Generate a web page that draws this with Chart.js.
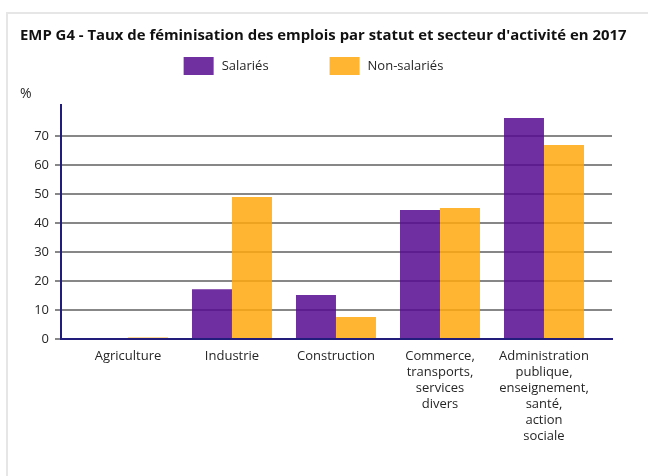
<!DOCTYPE html>
<html>
<head>
<meta charset="utf-8">
<script src="https://cdn.jsdelivr.net/npm/chart.js@4"></script>
<style>
  html, body { margin: 0; padding: 0; background: #ffffff; }
  #wrap { position: relative; width: 648px; height: 476px; overflow: hidden; }
  #frame { position: absolute; left: 6px; top: 12px; right: -10px; bottom: -10px;
           border-top: 2px solid #e6e6e6; border-left: 2px solid #e6e6e6; }
  canvas { position: absolute; left: 0; top: 0; }
</style>
</head>
<body>
<div id="wrap">
  <div id="frame"></div>
  <canvas id="c" width="648" height="476"></canvas>
</div>
<script>
// ---- data ----
const categories = [
  'Agriculture',
  'Industrie',
  'Construction',
  'Commerce, transports, services divers',
  'Administration publique, enseignement, santé, action sociale'
];
const categoryLines = [
  ['Agriculture'],
  ['Industrie'],
  ['Construction'],
  ['Commerce,', 'transports,', 'services', 'divers'],
  ['Administration', 'publique,', 'enseignement,', 'santé,', 'action', 'sociale']
];
const seriesNames = ['Salariés', 'Non-salariés'];
const salaries = [null, 17.2, 15.2, 44.5, 76.2];
const nonSalaries = [0.5, 49.0, 7.6, 45.2, 66.9];
const yTicks = [0, 10, 20, 30, 40, 50, 60, 70];

// ---- styles ----
const purpleSolid = '#7030A0';
const yellowSolid = '#FFB432';
const purpleBar = 'rgba(87,11,143,0.85)';
const yellowBar = 'rgba(255,167,14,0.85)';
const navy = '#221c7a';
const textColor = '#262626';
const FONT = '"Open Sans", "Noto Sans", sans-serif';

const toPoints = arr => arr.map((v, i) => ({ x: i, y: v }));

const legendPlugin = {
  id: 'customLegend',
  afterDraw(chart) {
    const ctx = chart.ctx;
    ctx.save();
    ctx.font = '13px ' + FONT;
    const items = chart.data.datasets.map(d => ({ label: d.label, color: d.legendColor }));
    const boxW = 30, boxH = 18, textGap = 8, itemGap = 61;
    const widths = items.map(it => boxW + textGap + ctx.measureText(it.label).width);
    const total = widths.reduce((a, b) => a + b, 0) + itemGap * (items.length - 1);
    let x = 313.5 - total / 2;
    const y = 57;
    items.forEach((it, i) => {
      ctx.fillStyle = it.color;
      ctx.fillRect(x, y, boxW, boxH);
      ctx.fillStyle = textColor;
      ctx.textBaseline = 'middle';
      ctx.textAlign = 'left';
      ctx.fillText(it.label, x + boxW + textGap, y + boxH / 2 + 0.5);
      x += widths[i] + itemGap;
    });
    ctx.restore();
  }
};

new Chart(document.getElementById('c'), {
  type: 'bar',
  data: {
    datasets: [
      { label: seriesNames[0], data: toPoints(salaries), backgroundColor: purpleBar, legendColor: purpleSolid,
        barPercentage: 1, categoryPercentage: 0.769 },
      { label: seriesNames[1], data: toPoints(nonSalaries), backgroundColor: yellowBar, legendColor: yellowSolid,
        barPercentage: 1, categoryPercentage: 0.769 }
    ]
  },
  options: {
    responsive: false,
    animation: false,
    devicePixelRatio: 1,
    layout: { padding: { left: 20, right: 6, top: 0, bottom: 0 } },
    plugins: {
      legend: { display: false },
      tooltip: { enabled: false },
      title: {
        display: true,
        text: 'EMP G4 - Taux de féminisation des emplois par statut et secteur d\'activité en 2017',
        align: 'start',
        color: '#111111',
        font: { family: FONT, size: 14.9, weight: 'bold' },
        padding: { top: 27, bottom: 0 }
      },
      subtitle: {
        display: true,
        text: '%',
        align: 'start',
        color: textColor,
        font: { family: FONT, size: 14 },
        padding: { top: 40.8, bottom: 2.6 }
      }
    },
    scales: {
      x: {
        type: 'linear',
        offset: false,
        min: -0.644,
        max: 4.654,
        afterBuildTicks: axis => { axis.ticks = categories.map((c, i) => ({ value: i })); },
        afterFit: s => { s.height = 137; },
        grid: { display: false, drawTicks: false, offset: false },
        border: { display: true, color: navy, width: 2, z: 1 },
        ticks: {
          autoSkip: false,
          maxRotation: 0,
          minRotation: 0,
          padding: 9,
          color: textColor,
          font: { family: FONT, size: 13, lineHeight: 1.23 },
          callback: v => categoryLines[v]
        }
      },
      y: {
        min: 0,
        max: 80.7,
        afterBuildTicks: axis => { axis.ticks = yTicks.map(v => ({ value: v })); },
        afterFit: s => { s.width = 41; },
        grid: { color: 'rgba(0,0,0,0.47)', lineWidth: 2, tickLength: 6, drawTicks: true },
        border: { display: true, color: navy, width: 2, z: 1 },
        ticks: {
          padding: 6,
          color: textColor,
          font: { family: FONT, size: 13 }
        }
      },
      yR: {
        position: 'right',
        display: true,
        afterFit: s => { s.width = 30; },
        grid: { display: false, drawTicks: false },
        border: { display: false },
        ticks: { display: false }
      }
    }
  },
  plugins: [legendPlugin]
});
</script>
</body>
</html>
